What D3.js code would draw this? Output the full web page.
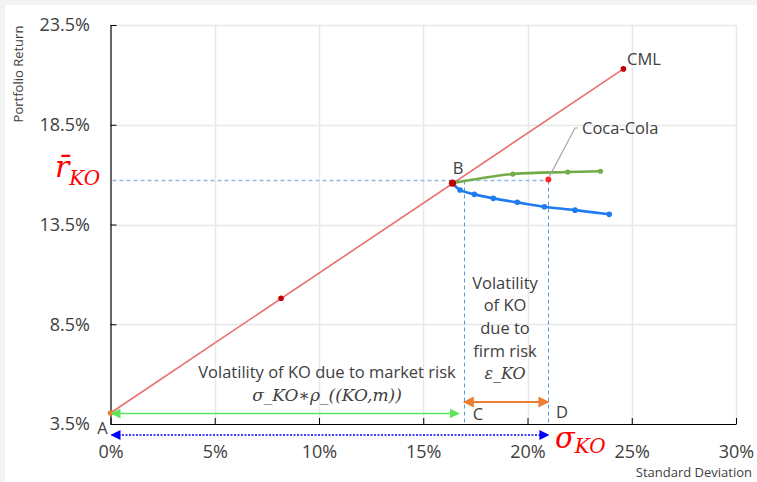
<!DOCTYPE html>
<html><head><meta charset="utf-8">
<script src="https://cdn.jsdelivr.net/npm/d3@7"></script>
<style>
html,body{margin:0;padding:0;background:#f3f3f3;}
svg{display:block;}
</style></head>
<body>
<svg id="chart" width="757" height="482"></svg>
<script>
// ---------- data ----------
const xTicks = [0, 5, 10, 15, 20, 25, 30];
const yTicks = [3.5, 8.5, 13.5, 18.5, 23.5];
const cmlSd  = [0, 8.18, 16.4, 24.6];
const cmlRet = [4.05, 9.8, 15.57, 21.3];
const greenSd  = [16.4, 19.3, 21.93, 23.5];
const greenRet = [15.57, 16.03, 16.13, 16.17];
const blueSd  = [16.4, 16.76, 17.45, 18.36, 19.51, 20.81, 22.28, 23.92];
const blueRet = [15.57, 15.23, 15.01, 14.81, 14.61, 14.39, 14.22, 14.01];
const koSd = 21.0, koRet = 15.75;
const cSd = 16.95;
const greenArrowEnd = 16.7;

const svg = d3.select("#chart");
svg.append("rect").attr("x",5).attr("y",5).attr("width",752).attr("height",477).attr("fill","#fff");

const x = d3.scaleLinear().domain([0,30]).range([110.5,736]);
const y = d3.scaleLinear().domain([3.5,23.5]).range([424,25]);
const snap = v => Math.round(v)+0.5;
const txt = "#404040";
const font = "'Open Sans', sans-serif";

// gridlines
svg.append("g").selectAll("line").data(xTicks.slice(1)).join("line")
  .attr("x1",d=>snap(x(d))).attr("x2",d=>snap(x(d))).attr("y1",y(23.5)).attr("y2",y(3.5))
  .attr("stroke","#e8e8e8").attr("stroke-width",1.5);
svg.append("g").selectAll("line").data(yTicks.slice(1)).join("line")
  .attr("x1",x(0)).attr("x2",x(30)).attr("y1",d=>snap(y(d))).attr("y2",d=>snap(y(d)))
  .attr("stroke","#e8e8e8").attr("stroke-width",1.5);

// axes
const xAxis = d3.axisBottom(x).tickValues(xTicks).tickFormat(d=>d+"%").tickSizeInner(-6).tickSizeOuter(0).tickPadding(21.5);
const gx = svg.append("g").attr("transform",`translate(0,${y(3.5)})`).call(xAxis);
const yAxis = d3.axisLeft(y).tickValues(yTicks).tickFormat(d=>d.toFixed(1)+"%").tickSizeInner(-6).tickSizeOuter(0).tickPadding(20.5);
const gy = svg.append("g").attr("transform",`translate(${x(0)},0)`).call(yAxis);
[gx,gy].forEach(g=>{
  g.select(".domain").attr("stroke","#000").attr("stroke-width",1.2);
  g.selectAll(".tick line").attr("stroke","#000");
  g.selectAll(".tick text").attr("fill",txt).style("font-family",font).style("font-size","18px");
});

// axis titles
svg.append("text").attr("transform","translate(18,74) rotate(-90)").attr("text-anchor","middle")
  .attr("dy","0.35em").style("font-family",font).style("font-size","13px").attr("fill",txt).text("Portfolio Return");
svg.append("text").attr("x",752).attr("y",472).attr("dy","0.35em").attr("text-anchor","end")
  .style("font-family",font).style("font-size","13px").attr("fill",txt).text("Standard Deviation");

// dashed guides
const gStroke = "#8fbbe6", gDash = "4,3";
const yKo = snap(y(koRet));
svg.append("line").attr("x1",x(0)+2).attr("x2",x(koSd)).attr("y1",yKo).attr("y2",yKo)
  .attr("stroke",gStroke).attr("stroke-width",1.5).attr("stroke-dasharray",gDash);
[cSd, koSd].forEach(v=>{
  svg.append("line").attr("x1",snap(x(v))).attr("x2",snap(x(v))).attr("y1",yKo).attr("y2",y(3.5))
    .attr("stroke","#5b9bd5").attr("stroke-width",1).attr("stroke-dasharray",gDash);
});

// CML
const cml = cmlSd.map((d,i)=>[d,cmlRet[i]]);
svg.append("line").attr("x1",x(cml[0][0])).attr("y1",y(cml[0][1])).attr("x2",x(cml[3][0])).attr("y2",y(cml[3][1]))
  .attr("stroke","#e8706f").attr("stroke-width",1.6);

// curves
const line = d3.line().x(d=>x(d[0])).y(d=>y(d[1])).curve(d3.curveCatmullRom.alpha(0.5));
const green = greenSd.map((d,i)=>[d,greenRet[i]]);
const blue = blueSd.map((d,i)=>[d,blueRet[i]]);
svg.append("path").attr("d",line(green)).attr("fill","none").attr("stroke","#70ad47").attr("stroke-width",2.6);
svg.append("path").attr("d",line(blue)).attr("fill","none").attr("stroke","#1f7bf2").attr("stroke-width",2.6);
svg.append("g").selectAll("circle").data(green.slice(1)).join("circle")
  .attr("cx",d=>x(d[0])).attr("cy",d=>y(d[1])).attr("r",2.6).attr("fill","#70ad47");
svg.append("g").selectAll("circle").data(blue.slice(1)).join("circle")
  .attr("cx",d=>x(d[0])).attr("cy",d=>y(d[1])).attr("r",2.8).attr("fill","#1f7bf2");

// CML points
svg.append("g").selectAll("circle").data(cml).join("circle")
  .attr("cx",d=>x(d[0])).attr("cy",d=>y(d[1])).attr("r",(d,i)=>i===2?3.6:2.8)
  .attr("fill",(d,i)=>i===0?"#ed7d31":"#c00000");
// KO point
svg.append("circle").attr("cx",x(koSd)).attr("cy",y(koRet)).attr("r",3).attr("fill","#ff2a2a");

// arrow markers
const defs = svg.append("defs");
function marker(id,color,size){
  const m = defs.append("marker").attr("id",id).attr("viewBox","0 0 10 10").attr("refX",9).attr("refY",5)
    .attr("markerUnits","userSpaceOnUse").attr("markerWidth",size).attr("markerHeight",size).attr("orient","auto-start-reverse");
  m.append("path").attr("d","M0,0 L10,5 L0,10 z").attr("fill",color);
}
marker("ag","#5ce65c",10);
marker("ao","#ed7d31",11);
marker("ab","#0000ff",10);

svg.append("line").attr("x1",x(0)+1).attr("x2",x(greenArrowEnd)).attr("y1",413.5).attr("y2",413.5)
  .attr("stroke","#5ce65c").attr("stroke-width",1.5).attr("marker-start","url(#ag)").attr("marker-end","url(#ag)");
svg.append("line").attr("x1",x(cSd)).attr("x2",x(koSd)).attr("y1",402).attr("y2",402)
  .attr("stroke","#ed7d31").attr("stroke-width",2).attr("marker-start","url(#ao)").attr("marker-end","url(#ao)");
svg.append("line").attr("x1",x(0)+1).attr("x2",x(koSd)).attr("y1",435).attr("y2",435)
  .attr("stroke","#0000ff").attr("stroke-width",1.5).attr("stroke-dasharray","2,1.5")
  .attr("marker-start","url(#ab)").attr("marker-end","url(#ab)");

// Coca-Cola leader
svg.append("polyline").attr("points",`578,128 575,128 ${x(koSd)+1},${y(koRet)-3}`)
  .attr("fill","none").attr("stroke","#a6a6a6").attr("stroke-width",1.2);

// labels
function label(t,xx,yy,size,anchor){
  return svg.append("text").attr("x",xx).attr("y",yy).attr("dy","0.35em").attr("text-anchor",anchor||"start")
    .style("font-family",font).style("font-size",size+"px").attr("fill",txt).text(t);
}
label("CML",627,59,16.5);
label("Coca-Cola",582,128,16.5);
label("B",458,168,16.5,"middle");
label("A",102.5,428,16.5,"middle");
label("C",478,414,16.5,"middle");
label("D",562,412,16.5,"middle");
label("Volatility of KO due to market risk",327,372,16.5,"middle");
["Volatility","of KO","due to","firm risk"].forEach((t,i)=>label(t,505,283+i*22.6,16.5,"middle"));

const math = "'DejaVu Serif', serif";
svg.append("text").attr("x",327).attr("y",395).attr("dy","0.35em").attr("text-anchor","middle")
  .style("font-family",math).style("font-style","italic").style("font-size","17px").attr("fill",txt)
  .text("σ_KO∗ρ_((KO,m))");
svg.append("text").attr("x",505).attr("y",373).attr("dy","0.35em").attr("text-anchor","middle")
  .style("font-family",math).style("font-style","italic").style("font-size","16px").attr("fill",txt)
  .text("ε_KO");

// red math symbols
const sig = svg.append("text").attr("x",555).attr("y",448).style("font-family",math).style("font-style","italic").attr("fill","#ff0000");
sig.append("tspan").style("font-size","29px").text("σ");
sig.append("tspan").attr("dy",5).style("font-size","20px").text("KO");
const rb = svg.append("text").attr("x",55).attr("y",177).style("font-family",math).style("font-style","italic").attr("fill","#ff0000");
rb.append("tspan").style("font-size","30px").text("r\u0304");
rb.append("tspan").attr("dy",8).style("font-size","20px").text("KO");
</script>
</body></html>
